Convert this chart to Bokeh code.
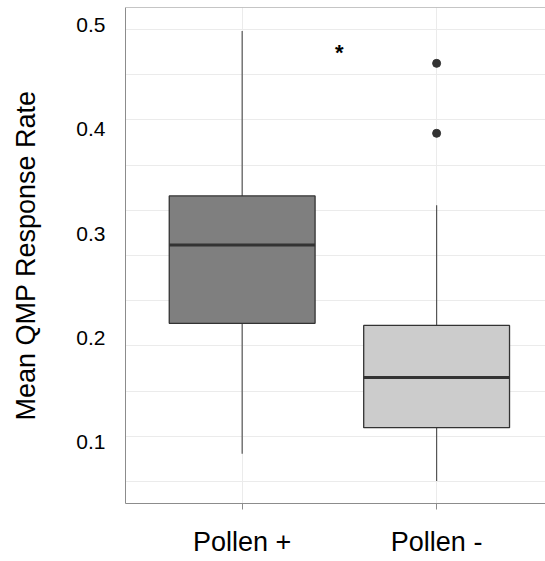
from bokeh.plotting import figure
from bokeh.models import FixedTicker, Range1d, Span
from bokeh.embed import file_html
from bokeh.resources import INLINE
from bokeh.core.properties import value

# ---- data ----
groups = ["Pollen +", "Pollen -"]
group_pos = [1, 2]
upper_whisker = [0.494, 0.327]
q3 = [0.336, 0.212]
median = [0.289, 0.162]
q1 = [0.214, 0.114]
lower_whisker = [0.089, 0.063]
box_colors = ["#7f7f7f", "#cccccc"]
outlier_pos = [2, 2]
outlier_values = [0.463, 0.396]
y_ticks = [0.1, 0.2, 0.3, 0.4, 0.5]
y_tick_labels = ["0.1", "0.2", "0.3", "0.4", "0.5"]
sig_x = [1.5]
sig_y = [0.473]
sig_text = ["*"]

# ---- styling ----
FONT = "Liberation Sans"
box_width = 0.75
grid_top = 0.4954
grid_step = 0.0433
n_grid = 11
grid_vals = [grid_top - grid_step * k for k in range(n_grid)]

p = figure(width=545, height=561, output_backend="svg", toolbar_location=None,
           x_range=Range1d(0.4, 2.56), y_range=Range1d(0.0414, 0.5165),
           min_border_left=125, min_border_right=0, min_border_top=7,
           min_border_bottom=58)
p.outline_line_color = None
p.background_fill_color = "white"

p.ygrid.ticker = FixedTicker(ticks=grid_vals)
p.ygrid.grid_line_color = "#ebebeb"
p.ygrid.grid_line_width = 1
p.xgrid.ticker = FixedTicker(ticks=group_pos)
p.xgrid.grid_line_color = "#ebebeb"
p.xgrid.grid_line_width = 1

# whiskers
p.segment(x0=group_pos, y0=q3, x1=group_pos, y1=upper_whisker, line_color="#555555", line_width=1.2)
p.segment(x0=group_pos, y0=q1, x1=group_pos, y1=lower_whisker, line_color="#555555", line_width=1.2)
# boxes
p.vbar(x=group_pos, width=box_width, top=q3, bottom=q1, fill_color=box_colors,
       line_color="#333333", line_width=1.3)
# medians
p.segment(x0=[x - box_width / 2 for x in group_pos], y0=median,
          x1=[x + box_width / 2 for x in group_pos], y1=median,
          line_color="#333333", line_width=3)
# outliers
p.scatter(x=outlier_pos, y=outlier_values, size=8, fill_color="#333333", line_color="#333333")
# significance star
p.text(x=sig_x, y=sig_y, text=sig_text, text_font=value(FONT), text_font_size="22px",
       text_font_style="bold", text_align="center", text_baseline="middle", text_color="black")

# top border
p.add_layout(Span(location=0.5165, dimension="width", line_color="#8c8c8c", line_width=1))

# x axis
xa = p.xaxis[0]
xa.ticker = FixedTicker(ticks=group_pos)
xa.major_label_overrides = {pos: g for pos, g in zip(group_pos, groups)}
xa.minor_tick_line_color = None
xa.major_tick_out = 6
xa.major_tick_in = 0
xa.major_tick_line_color = "#8c8c8c"
xa.axis_line_color = "#8c8c8c"
xa.major_label_text_font = FONT
xa.major_label_text_font_size = "27px"
xa.major_label_text_color = "black"
xa.major_label_standoff = 17

# y axis
ya = p.yaxis[0]
ya.ticker = FixedTicker(ticks=y_ticks)
ya.major_label_overrides = {t: l for t, l in zip(y_ticks, y_tick_labels)}
ya.minor_tick_line_color = None
ya.major_tick_line_color = None
ya.major_tick_out = 0
ya.major_tick_in = 0
ya.axis_line_color = "#8c8c8c"
ya.major_label_text_font = FONT
ya.major_label_text_font_size = "21px"
ya.major_label_text_color = "black"
ya.major_label_standoff = 20
ya.axis_label = "Mean QMP Response Rate"
ya.axis_label_text_font = FONT
ya.axis_label_text_font_size = "27px"
ya.axis_label_text_font_style = "normal"
ya.axis_label_text_color = "black"
ya.axis_label_standoff = 32

open("out.html", "w").write(file_html(p, INLINE))
